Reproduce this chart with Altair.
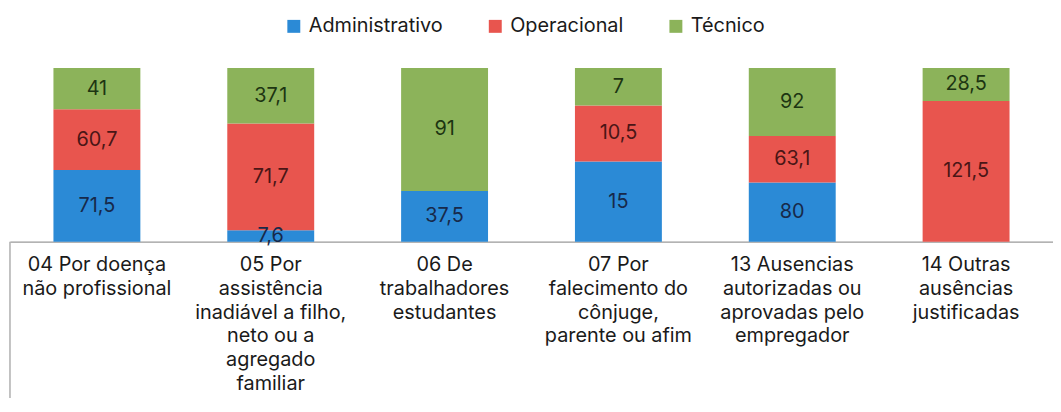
import altair as alt
import pandas as pd

categories = [
    "04 Por doença|não profissional",
    "05 Por|assistência|inadiável a filho,|neto ou a|agregado|familiar",
    "06 De|trabalhadores|estudantes",
    "07 Por|falecimento do|cônjuge,|parente ou afim",
    "13 Ausencias|autorizadas ou|aprovadas pelo|empregador",
    "14 Outras|ausências|justificadas",
]
series = ["Administrativo", "Operacional", "Técnico"]
administrativo = [71.5, 7.6, 37.5, 15, 80, 0]
operacional = [60.7, 71.7, 0, 10.5, 63.1, 121.5]
tecnico = [41, 37.1, 91, 7, 92, 28.5]

bar_colors = ["#2b8ad6", "#e8554e", "#8cb35a"]
text_colors = ["#17294a", "#4a1616", "#1d3512"]

rows = []
for s_i, (name, vals) in enumerate(zip(series, [administrativo, operacional, tecnico])):
    for c, v in zip(categories, vals):
        if v > 0:
            rows.append({"cat": c, "series": name, "value": v, "order": s_i,
                         "label": f"{v:g}".replace(".", ",")})
df = pd.DataFrame(rows)

W, H = 1051, 175
FONT = "Inter"
FS = 20

base = alt.Chart(df).transform_stack(
    stack="value", groupby=["cat"], as_=["y0", "y1"], offset="normalize",
    sort=[alt.SortField("order", order="ascending")],
)

xenc = alt.X(
    "cat:N", sort=categories,
    scale=alt.Scale(paddingInner=0.5, paddingOuter=0.25),
    axis=alt.Axis(
        title=None, labelAngle=0, labelExpr="split(datum.label, '|')",
        labelFont=FONT, labelFontSize=FS, labelLineHeight=24, labelPadding=13,
        labelColor="#1a1a1a", ticks=False, domainColor="#9a9a9a", domainWidth=1.2,
        labelLimit=260, labelOverlap=False, labelBound=False,
    ),
)

bars = base.mark_bar().encode(
    x=xenc,
    y=alt.Y("y0:Q", scale=alt.Scale(domain=[0, 1]), axis=None),
    y2="y1:Q",
    color=alt.Color(
        "series:N", scale=alt.Scale(domain=series, range=bar_colors),
        legend=alt.Legend(
            title=None, orient="none", direction="horizontal", legendX=276, legendY=-52,
            symbolType="square", symbolSize=170, symbolStrokeWidth=0,
            labelFont=FONT, labelFontSize=FS, labelColor="#1a1a1a",
            labelOffset=5, columnPadding=42,
        ),
    ),
)

texts = base.transform_calculate(mid="(datum.y0 + datum.y1) / 2").mark_text(
    font=FONT, fontSize=FS, baseline="middle"
).encode(
    x=alt.X("cat:N", sort=categories),
    y=alt.Y("mid:Q", scale=alt.Scale(domain=[0, 1])),
    text="label:N",
    color=alt.Color("series:N", scale=alt.Scale(domain=series, range=text_colors), legend=None),
)

border = alt.Chart(pd.DataFrame({"a": [0]})).mark_rule(color="#9a9a9a", strokeWidth=1.2).encode(
    x=alt.value(0), y=alt.value(H), y2=alt.value(H + 165)
)

chart = alt.layer(bars, texts, border).resolve_scale(color="independent").properties(
    width=W, height=H,
    autosize=alt.AutoSizeParams(type="none"),
    padding={"left": 2, "top": 59, "right": 0, "bottom": 156},
).configure_view(stroke=None)

chart.save("out.html", embed_options={"renderer": "svg", "actions": False})
